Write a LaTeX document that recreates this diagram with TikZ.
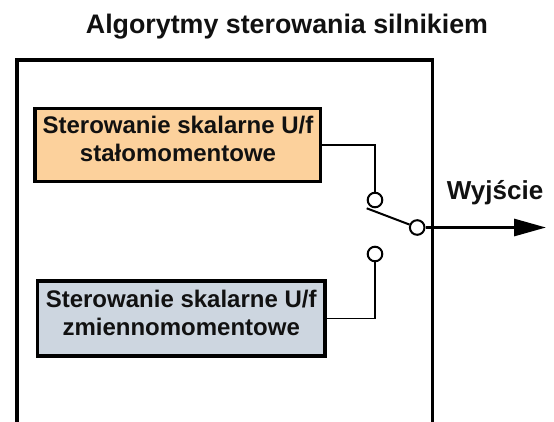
\documentclass[tikz,border=0pt]{standalone}
\usepackage{fontspec}
\setmainfont{Liberation Sans}
\usetikzlibrary{arrows.meta}
\definecolor{orangefill}{HTML}{FCD19C}
\definecolor{bluefill}{HTML}{CDD6E0}
\definecolor{ink}{HTML}{111111}
\tikzset{
  frameline/.style={line width=3.4pt, line cap=rect},
  algbox/.style={draw, line width=3.3pt, rectangle, inner sep=0pt, minimum width=#1},
  boxtext/.style={anchor=base, inner sep=0pt, text=ink, font=\fontsize{24}{27.7}\selectfont\bfseries},
  contact/.style={circle, draw, fill=white, line width=2pt, inner sep=0pt, minimum size=14.6pt},
  wire/.style={line width=2.6pt},
  thinwire/.style={line width=1.8pt},
}
\begin{document}
\begin{tikzpicture}[x=1pt, y=-1pt]
\useasboundingbox (0,0) rectangle (554,421);
% frame
\draw[frameline] (17,421) -- (17,60) -- (432.3,60) -- (432.3,421);
% title
\node[anchor=base, inner sep=0pt, text=ink, font=\fontsize{26.8}{30}\selectfont\bfseries] (title) at (287,33) {Algorytmy sterowania silnikiem};
% boxes
\node[algbox=285.7pt, minimum height=73.4pt, fill=orangefill] (a) at (177.9,145) {};
\node[boxtext] (atext) at (178,133.3) {\begin{tabular}[t]{@{}c@{}}Sterowanie skalarne U/f\\ stałomomentowe\end{tabular}};
\node[algbox=287.7pt, minimum height=75pt, fill=bluefill] (b) at (181.2,318.5) {};
\node[boxtext] (btext) at (181.2,307.3) {\begin{tabular}[t]{@{}c@{}}Sterowanie skalarne U/f\\ zmiennomomentowe\end{tabular}};
% contacts
\node[contact] (c1) at (375,200) {};
\node[contact] (c2) at (375,254) {};
\node[contact] (c3) at (417.2,227.5) {};
\coordinate (blade) at (366.7,208.3);
\coordinate (out) at (546,227.5);
% connectors
\draw[wire] (a.east) -| (c1);
\draw[thinwire] (b.east) -| (c2);
\draw[line width=2pt] (blade) -- (c3);
\draw[line width=3pt, -{Triangle[length=32pt, width=17pt]}] (c3) -- (out);
% output label
\node[anchor=base west, inner sep=0pt, text=ink, font=\fontsize{26}{30}\selectfont\bfseries] (wy) at (446.7,199.3) {Wyjście};
\end{tikzpicture}
\end{document}
